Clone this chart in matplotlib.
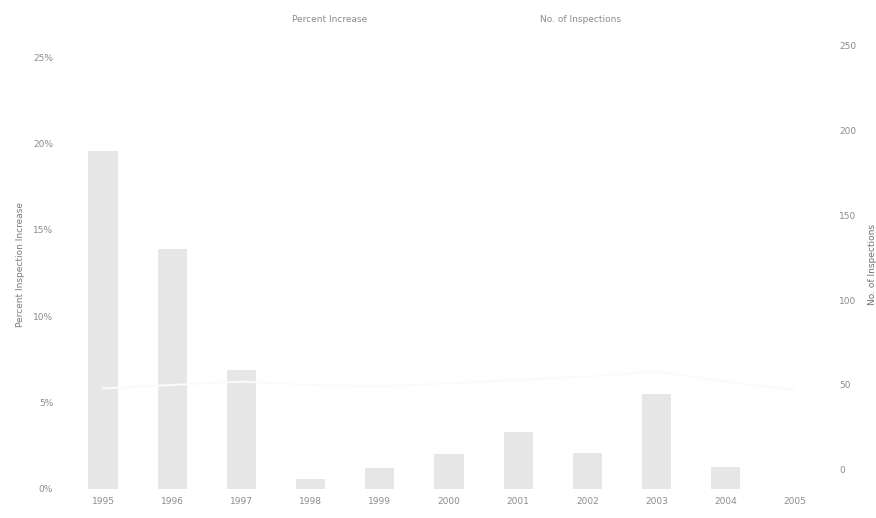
import matplotlib
matplotlib.use("Agg")
import matplotlib.pyplot as plt
import numpy as np

years = ["1995", "1996", "1997", "1998", "1999", "2000", "2001", "2002", "2003", "2004", "2005"]
percent_increase = [19.6, 13.9, 6.9, 0.6, 1.2, 2.0, 3.3, 2.1, 5.5, 1.3, 0.0]
num_inspections = [48, 50, 52, 50, 49, 51, 53, 55, 58, 52, 47]
left_ticks = [0, 5, 10, 15, 20, 25]
right_ticks = [0, 50, 100, 150, 200, 250]

txt = "#8c8c8c"
fig = plt.figure(figsize=(8.76, 5.18), dpi=100)
ax = fig.add_axes([0.0702, 0.056, 0.8847, 0.8668])
x = np.arange(len(years))
ax.bar(x, percent_increase, width=0.42, color="#e6e6e6", label="Percent Increase")
ax.set_xlim(-0.6, len(years) - 0.4)
ax.set_ylim(0, 26.0)
ax.set_yticks(left_ticks)
ax.set_yticklabels([f"{t}%" for t in left_ticks])
ax.set_xticks(x)
ax.set_xticklabels(years)
ax.tick_params(length=0, labelsize=6.5, colors=txt, pad=6)
ax.set_ylabel("Percent Inspection Increase", fontsize=6.5, color="#7a7a7a", labelpad=6)
for s in ax.spines.values():
    s.set_visible(False)

ax2 = ax.twinx()
ax2.plot(x, num_inspections, color="#fbfbfb", lw=1.5, label="No. of Inspections")
ax2.set_ylim(-11.2, 253)
ax2.set_yticks(right_ticks)
ax2.tick_params(length=0, labelsize=6.5, colors=txt, pad=2)
ax2.set_ylabel("No. of Inspections", fontsize=6.5, color="#6e6e6e", labelpad=8)
for s in ax2.spines.values():
    s.set_visible(False)

fig.text(330 / 876, 1 - 20 / 518, "Percent Increase", fontsize=6.5, color=txt, ha="center", va="center")
fig.text(580 / 876, 1 - 20 / 518, "No. of Inspections", fontsize=6.5, color=txt, ha="center", va="center")

fig.savefig("out.png", dpi=100)
